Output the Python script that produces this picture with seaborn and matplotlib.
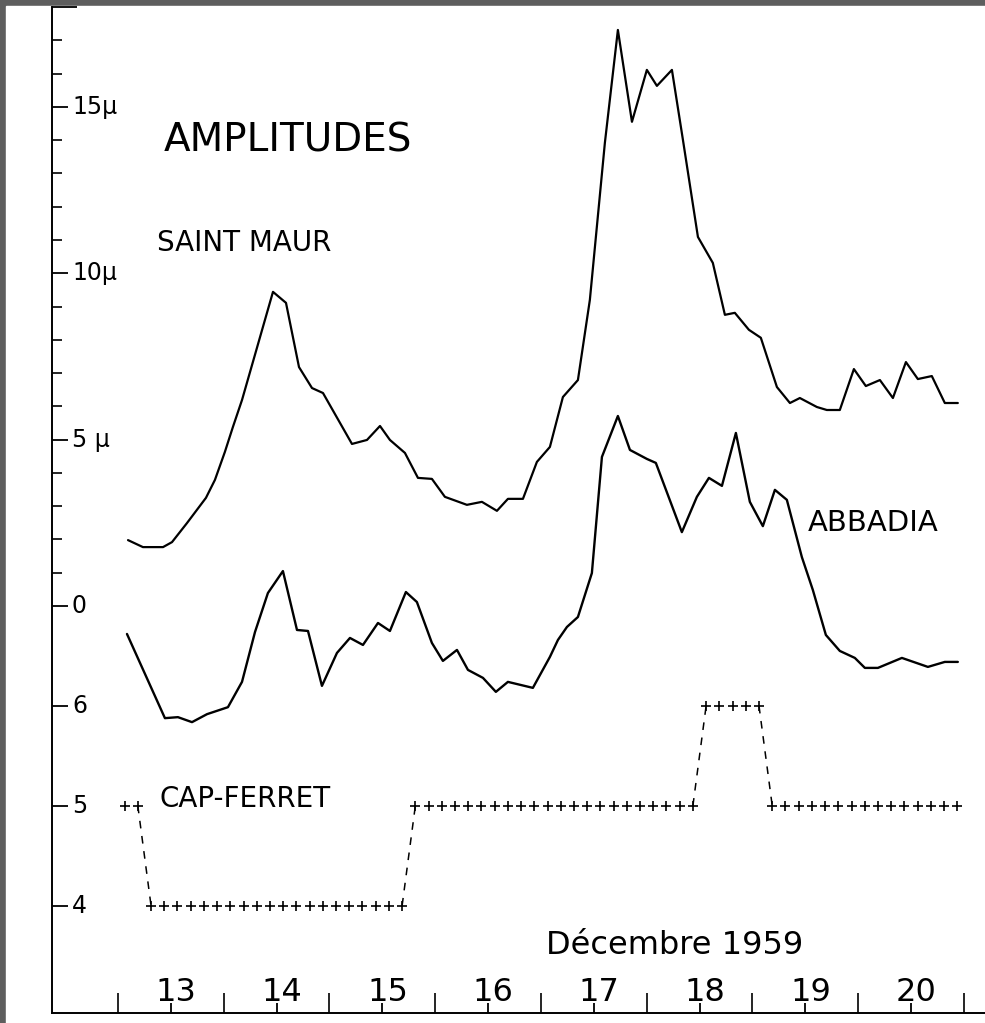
import numpy as np
import pandas as pd
import seaborn as sns
import matplotlib.pyplot as plt
import matplotlib.transforms as mtrans
from matplotlib.patches import Rectangle

# Saint Maur amplitudes (microns), time in days of December 1959
sm_time = [13.095, 13.236, 13.426, 13.511, 13.652, 13.832, 13.917, 14.011, 14.087, 14.173,
           14.466, 14.589, 14.712, 14.835, 14.939, 15.213, 15.355, 15.478, 15.572, 15.714,
           15.837, 15.969, 16.092, 16.300, 16.442, 16.584, 16.688, 16.830, 16.962, 17.085,
           17.208, 17.350, 17.463, 17.605, 17.728, 17.861, 18.002, 18.097, 18.239, 18.343,
           18.485, 18.626, 18.740, 18.834, 18.967, 19.080, 19.232, 19.355, 19.449, 19.610,
           19.704, 19.827, 19.960, 20.073, 20.206, 20.329, 20.452, 20.565, 20.697, 20.820,
           20.943]
sm_amp = [1.98, 1.77, 1.77, 1.92, 2.49, 3.25, 3.79, 4.63, 5.38, 6.19,
          9.44, 9.11, 7.18, 6.55, 6.40, 4.87, 4.99, 5.41, 4.99, 4.60,
          3.85, 3.82, 3.28, 3.04, 3.13, 2.86, 3.22, 3.22, 4.33, 4.78,
          6.28, 6.79, 9.20, 13.92, 17.31, 14.55, 16.11, 15.63, 16.11, 14.01,
          11.09, 10.31, 8.75, 8.81, 8.30, 8.06, 6.58, 6.10, 6.25, 5.98,
          5.89, 5.89, 7.12, 6.61, 6.79, 6.25, 7.33, 6.82, 6.91, 6.10,
          6.10]

# Abbadia, drawn below on the same scale
ab_time = [13.085, 13.444, 13.567, 13.700, 13.842, 14.040, 14.173, 14.296, 14.418, 14.560,
           14.693, 14.797, 14.929, 15.071, 15.194, 15.317, 15.459, 15.572, 15.723, 15.827,
           15.969, 16.073, 16.206, 16.310, 16.452, 16.574, 16.688, 16.924, 17.085, 17.161,
           17.246, 17.350, 17.482, 17.577, 17.728, 17.842, 18.002, 18.087, 18.333, 18.475,
           18.589, 18.712, 18.844, 18.976, 19.099, 19.213, 19.326, 19.468, 19.572, 19.695,
           19.827, 19.969, 20.064, 20.187, 20.414, 20.660, 20.820, 20.943]
ab_amp = [-0.84, -3.37, -3.34, -3.49, -3.25, -3.04, -2.28, -0.78, 0.39, 1.05,
          -0.72, -0.75, -2.40, -1.41, -0.96, -1.17, -0.51, -0.75, 0.42, 0.12,
          -1.11, -1.65, -1.32, -1.92, -2.16, -2.58, -2.28, -2.46, -1.53, -1.02,
          -0.63, -0.33, 0.99, 4.48, 5.71, 4.69, 4.42, 4.30, 2.22, 3.28,
          3.85, 3.61, 5.20, 3.13, 2.40, 3.49, 3.19, 1.47, 0.48, -0.87,
          -1.35, -1.56, -1.86, -1.86, -1.56, -1.83, -1.68, -1.68]

# Cap-Ferret K index, one value per 3-hour interval, 13 -> 20 Dec
cf_k = [5, 5, 4, 4, 4, 4, 4, 4,
        4, 4, 4, 4, 4, 4, 4, 4,
        4, 4, 4, 4, 4, 4, 5, 5,
        5, 5, 5, 5, 5, 5, 5, 5,
        5, 5, 5, 5, 5, 5, 5, 5,
        5, 5, 5, 5, 6, 6, 6, 6,
        6, 5, 5, 5, 5, 5, 5, 5,
        5, 5, 5, 5, 5, 5, 5, 5]

days = [13, 14, 15, 16, 17, 18, 19, 20]
ytick_pos = [15, 10, 5, 0, -3, -6, -9]
ytick_labels = ['15μ', '10μ', '5 μ', '0', '6', '5', '4']

# K index drawn on the lower part of the axis: K=5 sits at -6, 3 units per K
cf_t = 13 + (np.arange(len(cf_k)) + 0.5) / 8
cf_y = -6 + 3 * (np.array(cf_k) - 5)

sns.set_style("ticks")
plt.rcParams['font.family'] = ['DejaVu Sans']
plt.rcParams['text.color'] = 'black'
plt.rcParams['xtick.color'] = 'black'
plt.rcParams['ytick.color'] = 'black'

fig = plt.figure(figsize=(9.85, 10.23), dpi=100, facecolor='#5e5e5e')
fig.add_artist(Rectangle((6 / 985, 0), 1, 1 - 6 / 1023, transform=fig.transFigure,
                         color='white', zorder=-1))
ax = fig.add_axes([52 / 985, 10 / 1023, 933 / 985, 1006 / 1023])
ax.set_facecolor('white')

sns.lineplot(x=sm_time, y=sm_amp, ax=ax, color='black', lw=1.6, sort=False, estimator=None)
sns.lineplot(x=ab_time, y=ab_amp, ax=ax, color='black', lw=1.7, sort=False, estimator=None)
sns.scatterplot(x=cf_t, y=cf_y, ax=ax, marker='+', s=42, color='black', linewidth=1.2)

# dashed jumps where the K index changes
for i in range(len(cf_k) - 1):
    if cf_k[i] != cf_k[i + 1]:
        ax.plot([cf_t[i], cf_t[i + 1]], [cf_y[i], cf_y[i + 1]], color='black',
                lw=1.1, ls=(0, (5, 5)))

ax.set_xlim(12.376, 21.2)
ax.set_ylim(-12.23, 18)

# y axis: long ticks at labelled values, short ticks every micron, labels inside
ax.set_yticks([18] + ytick_pos)
ax.set_yticks([v for v in range(1, 18) if v % 5 != 0], minor=True)
ax.tick_params(axis='y', which='major', direction='in', length=11.5, width=1.3,
               labelleft=False)
ax.tick_params(axis='y', which='minor', direction='in', length=7, width=1.2)
ax.yaxis.get_major_ticks()[0].tick1line.set_markersize(18)
ytr = mtrans.blended_transform_factory(ax.transAxes, ax.transData)
for v, lab in zip(ytick_pos, ytick_labels):
    ax.text(0.0214, v, lab, transform=ytr, fontsize=17, ha='left', va='center')

# x axis: long ticks at midnight, short ticks at noon under the day numbers
ax.set_xticks(range(13, 22))
ax.set_xticks([d + 0.5 for d in days], minor=True)
ax.tick_params(axis='x', which='major', direction='in', length=14.4, width=1.2,
               labelbottom=False)
ax.tick_params(axis='x', which='minor', direction='in', length=7.5, width=1.3)
xtr = mtrans.blended_transform_factory(ax.transData, ax.transAxes)
for d in days:
    ax.text(d + 0.55, 0.012, str(d), transform=xtr, fontsize=23, ha='center',
            va='baseline')

for side in ['top', 'right']:
    ax.spines[side].set_visible(False)
for side in ['left', 'bottom']:
    ax.spines[side].set_linewidth(1.4)
    ax.spines[side].set_color('black')

ax.text(13.43, 14.0, 'AMPLITUDES', fontsize=28, va='center', ha='left')
ax.text(13.37, 10.91, 'SAINT MAUR', fontsize=20, va='center', ha='left')
ax.text(19.52, 2.49, 'ABBADIA', fontsize=21, va='center', ha='left')
ax.text(13.39, -5.80, 'CAP-FERRET', fontsize=20, va='center', ha='left')
ax.text(18.26, -10.19, 'Décembre 1959', fontsize=23, va='center', ha='center')

fig.savefig('out.png', dpi=100, facecolor=fig.get_facecolor())
